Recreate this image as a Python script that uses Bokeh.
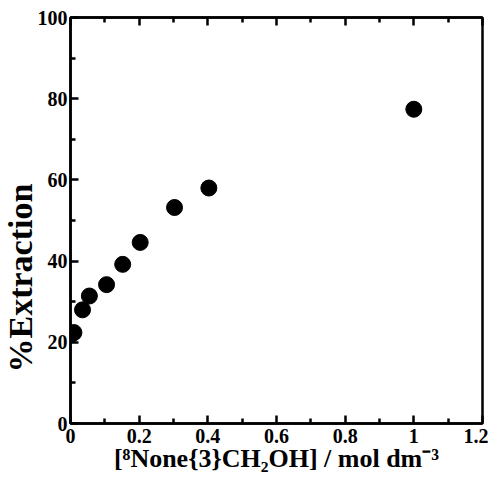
from bokeh.plotting import figure
from bokeh.models import FixedTicker, LinearAxis, Range1d, Title, CustomLabelingPolicy
from bokeh.embed import file_html
from bokeh.resources import INLINE

# data
conc = [0.0, 0.01, 0.035, 0.055, 0.105, 0.152, 0.203, 0.303, 0.403, 1.0]
extraction = [21.8, 22.4, 28.0, 31.4, 34.2, 39.2, 44.6, 53.2, 58.0, 77.4]

x_major = [0, 0.2, 0.4, 0.6, 0.8, 1.0, 1.2]
x_minor = [0.1, 0.3, 0.5, 0.7, 0.9, 1.1]
x_labels = {0: "0", 0.2: "0.2", 0.4: "0.4", 0.6: "0.6", 0.8: "0.8", 1.0: "1", 1.2: "1.2"}
y_major = [0, 20, 40, 60, 80, 100]
y_minor = [10, 30, 50, 70, 90]
x_title = "[⁸None{3}CH₂OH] / mol dm⁻³"
y_title = "%Extraction"

FONT = "Liberation Serif"

p = figure(width=488, height=475, output_backend="svg", toolbar_location=None,
           x_range=Range1d(0, 1.2), y_range=Range1d(0, 100),
           x_axis_location=None, y_axis_location=None,
           min_border_left=70, min_border_right=6, min_border_top=8, min_border_bottom=52)
p.grid.visible = False
p.outline_line_color = "black"
p.outline_line_width = 2.5
p.background_fill_color = "white"
p.border_fill_color = "white"

def style(ax):
    ax.axis_line_width = 2.5
    ax.axis_line_color = "black"
    ax.major_tick_in = 8
    ax.major_tick_out = 0
    ax.minor_tick_in = 5
    ax.minor_tick_out = 0
    ax.major_tick_line_width = 2.5
    ax.minor_tick_line_width = 2.5
    ax.major_label_text_font = FONT
    ax.major_label_text_font_style = "bold"
    ax.major_label_text_font_size = "20px"
    ax.major_label_text_color = "black"

xb = LinearAxis(ticker=FixedTicker(ticks=x_major, minor_ticks=x_minor))
style(xb)
xb.major_label_overrides = x_labels
xb.major_label_standoff = 5
p.add_layout(xb, "below")

xtitle = Title(text=x_title, align="center", standoff=-8,
               text_font=FONT, text_font_style="bold", text_font_size="26px",
               text_color="black")
p.add_layout(xtitle, "below")

xt = LinearAxis(ticker=FixedTicker(ticks=x_major, minor_ticks=x_minor))
style(xt)
xt.major_label_policy = CustomLabelingPolicy(code="return []")
xt.major_label_standoff = 0
p.add_layout(xt, "above")

yl = LinearAxis(ticker=FixedTicker(ticks=y_major, minor_ticks=y_minor))
style(yl)
yl.major_label_standoff = 3
p.add_layout(yl, "left")

ytitle = Title(text=y_title, align="left", offset=51, standoff=-9,
               text_font=FONT, text_font_style="bold", text_font_size="34px",
               text_color="black")
p.add_layout(ytitle, "left")

p.scatter(conc, extraction, size=16, color="black")

open("out.html", "w").write(file_html(p, INLINE))
